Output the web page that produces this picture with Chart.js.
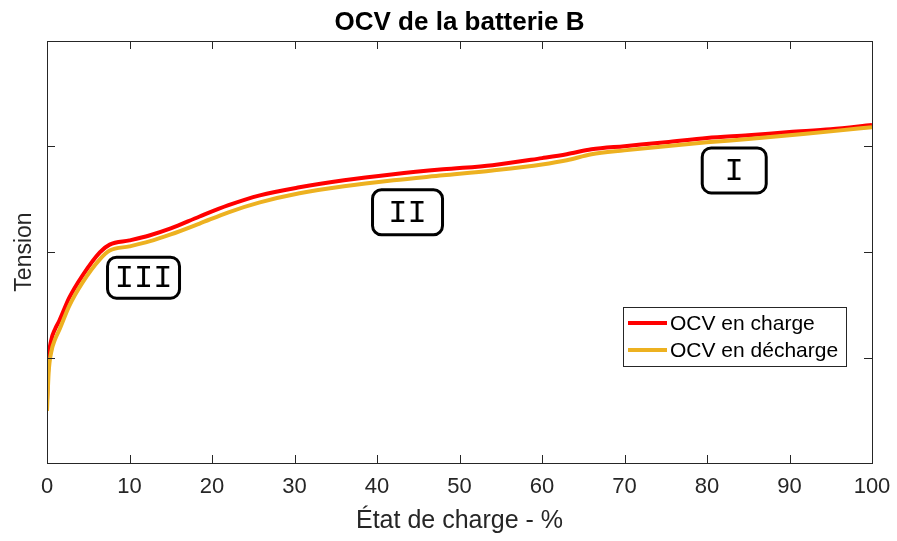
<!DOCTYPE html>
<html lang="fr">
<head>
<meta charset="utf-8">
<title>OCV de la batterie B</title>
<script src="https://cdn.jsdelivr.net/npm/chart.js@4.4.1/dist/chart.umd.min.js"></script>
<style>
    html, body { margin: 0; padding: 0; background: #fff; }
    #wrap { width: 897px; height: 541px; }
</style>
</head>
<body>
<div id="wrap"><canvas id="ocvChart" width="897" height="541"></canvas></div>
<script>
// State of charge (%) and measured OCV (V) for both directions
const socCharge = [0, 0.2, 0.5, 1.0, 1.5, 2.7, 4.3, 6.4, 7.6, 10, 12.4, 15, 18.5, 22, 25.8, 30.6, 36, 42, 48, 54, 60, 63, 66, 70, 75, 80, 85, 90, 95, 100];
const ocvCharge = [3.177, 3.296, 3.348, 3.382, 3.405, 3.470, 3.533, 3.599, 3.621, 3.633, 3.647, 3.667, 3.701, 3.733, 3.761, 3.784, 3.804, 3.821, 3.835, 3.847, 3.867, 3.878, 3.892, 3.901, 3.912, 3.924, 3.932, 3.941, 3.949, 3.961];

const socDischarge = [0, 0.2, 0.5, 1.0, 1.5, 2.7, 4.3, 6.4, 7.6, 10, 12.4, 15, 18.5, 22, 25.8, 30.6, 36, 42, 48, 54, 60, 63, 66, 70, 75, 80, 85, 90, 95, 100];
const ocvDischarge = [3.148, 3.257, 3.314, 3.353, 3.379, 3.447, 3.513, 3.579, 3.604, 3.616, 3.630, 3.650, 3.681, 3.713, 3.741, 3.767, 3.787, 3.804, 3.818, 3.832, 3.849, 3.861, 3.878, 3.889, 3.901, 3.912, 3.921, 3.932, 3.943, 3.955];

// Operating regions marked on the curve
const regionLabels = ['I', 'II', 'III'];
const regionSoc = [83.3, 43.7, 11.7];
const regionOcv = [3.832, 3.713, 3.527];

const chartTitle = 'OCV de la batterie B';

const AXIS_COLOR = '#262626';
const SANS = '"Liberation Sans", Arial, sans-serif';

const toPoints = (xs, ys) => xs.map((x, i) => ({ x: x, y: ys[i] }));

// --- MATLAB-like box with inward ticks on all four sides ---
const axesBox = {
    id: 'axesBox',
    afterDatasetsDraw(chart) {
        const { ctx, chartArea: a, scales } = chart;
        const len = 8;
        ctx.save();
        ctx.strokeStyle = AXIS_COLOR;
        ctx.lineWidth = 1;
        ctx.beginPath();
        scales.x.ticks.forEach(t => {
            const px = Math.round(scales.x.getPixelForValue(t.value)) + 0.5;
            ctx.moveTo(px, a.bottom); ctx.lineTo(px, a.bottom - len);
            ctx.moveTo(px, a.top); ctx.lineTo(px, a.top + len);
        });
        scales.y.ticks.forEach(t => {
            const py = Math.round(scales.y.getPixelForValue(t.value)) + 0.5;
            ctx.moveTo(a.left, py); ctx.lineTo(a.left + len, py);
            ctx.moveTo(a.right, py); ctx.lineTo(a.right - len, py);
        });
        ctx.stroke();
        ctx.strokeRect(Math.round(a.left) + 0.5, Math.round(a.top) + 0.5,
            Math.round(a.right - a.left), Math.round(a.bottom - a.top));

        // title centred over the axes
        ctx.fillStyle = '#000';
        ctx.font = 'bold 26px ' + SANS;
        ctx.textAlign = 'center';
        ctx.textBaseline = 'middle';
        ctx.fillText(chartTitle, (a.left + a.right) / 2, 23);
        ctx.restore();
    }
};

// --- Rounded text boxes for the regions ---
const regionBoxes = {
    id: 'regionBoxes',
    afterDatasetsDraw(chart, args, opts) {
        const { ctx, scales } = chart;
        ctx.save();
        ctx.font = '32px "Liberation Mono", "DejaVu Sans Mono", monospace';
        ctx.textAlign = 'center';
        ctx.textBaseline = 'middle';
        regionLabels.forEach((label, i) => {
            const cx = scales.x.getPixelForValue(regionSoc[i]);
            const cy = scales.y.getPixelForValue(regionOcv[i]);
            const w = opts.widths[i], h = opts.heights[i];
            ctx.lineWidth = 3;
            ctx.strokeStyle = '#000';
            ctx.beginPath();
            ctx.roundRect(cx - w / 2, cy - h / 2, w, h, 9);
            ctx.stroke();
            ctx.fillStyle = '#000';
            ctx.fillText(label, cx, cy + 1);
        });
        ctx.restore();
    }
};

// --- Legend drawn inside the axes, lower right ---
const innerLegend = {
    id: 'innerLegend',
    afterDraw(chart) {
        const { ctx, chartArea: a } = chart;
        const x0 = a.right - 249, y0 = a.top + 266;
        const w = 223, h = 59;
        ctx.save();
        ctx.fillStyle = '#fff';
        ctx.fillRect(x0, y0, w, h);
        ctx.strokeStyle = AXIS_COLOR;
        ctx.lineWidth = 1;
        ctx.strokeRect(Math.round(x0) + 0.5, Math.round(y0) + 0.5, w, h);
        ctx.font = '21px ' + SANS;
        ctx.textBaseline = 'middle';
        chart.data.datasets.forEach((ds, i) => {
            const ly = y0 + 16 + i * 27;
            ctx.strokeStyle = ds.borderColor;
            ctx.lineWidth = 4;
            ctx.beginPath();
            ctx.moveTo(x0 + 5, ly);
            ctx.lineTo(x0 + 44, ly);
            ctx.stroke();
            ctx.fillStyle = '#000';
            ctx.fillText(ds.label, x0 + 47, ly + 1);
        });
        ctx.restore();
    }
};

const ctx = document.getElementById('ocvChart').getContext('2d');

new Chart(ctx, {
    type: 'line',
    data: {
        datasets: [{
            label: 'OCV en charge',
            data: toPoints(socCharge, ocvCharge),
            borderColor: '#FF0000',
            borderWidth: 4,
            pointRadius: 0,
            cubicInterpolationMode: 'monotone',
            order: 2
        }, {
            label: 'OCV en décharge',
            data: toPoints(socDischarge, ocvDischarge),
            borderColor: '#EDB120',
            borderWidth: 4,
            pointRadius: 0,
            cubicInterpolationMode: 'monotone',
            order: 1
        }]
    },
    options: {
        responsive: false,
        animation: false,
        layout: { padding: { left: 0, right: 25, top: 41, bottom: 0 } },
        plugins: {
            legend: { display: false },
            tooltip: { enabled: false },
            title: { display: false },
            regionBoxes: { widths: [64, 70, 72], heights: [45, 45, 41] }
        },
        scales: {
            x: {
                type: 'linear',
                min: 0, max: 100,
                grid: { display: false, drawTicks: false },
                border: { display: false },
                ticks: {
                    stepSize: 10,
                    color: AXIS_COLOR,
                    padding: 11,
                    maxRotation: 0,
                    font: { family: SANS, size: 22 }
                },
                title: {
                    display: true,
                    text: 'État de charge - %',
                    color: AXIS_COLOR,
                    font: { family: SANS, size: 25 },
                    padding: { top: 0, bottom: 5 }
                },
                afterFit(scale) {
                    scale.height = 78;
                    scale.paddingLeft = 0;
                    scale.paddingRight = 0;
                }
            },
            y: {
                type: 'linear',
                min: 3.0, max: 4.2,
                grid: { display: false, drawTicks: false },
                border: { display: false },
                ticks: { stepSize: 0.3, display: false },
                title: {
                    display: true,
                    text: 'Tension',
                    color: AXIS_COLOR,
                    font: { family: SANS, size: 23 },
                    padding: { top: 11, bottom: 0 }
                },
                afterFit(scale) { scale.width = 47; }
            }
        }
    },
    plugins: [axesBox, regionBoxes, innerLegend]
});
</script>
</body>
</html>
